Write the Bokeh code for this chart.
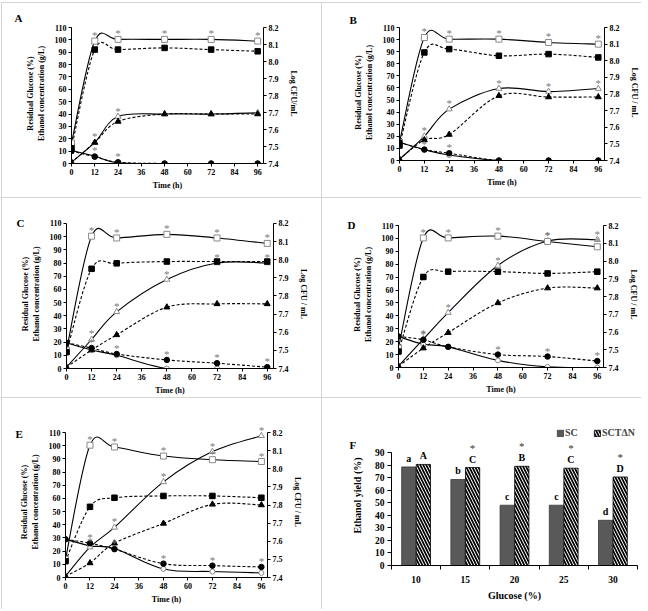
from bokeh.plotting import figure
from bokeh.layouts import column, row
from bokeh.models import (Range1d, LinearAxis, FixedTicker, Legend, LegendItem,
                          NumeralTickFormatter)
from bokeh.core.properties import value
from bokeh.embed import file_html
from bokeh.resources import INLINE

FONT = "Liberation Serif"

# ---------------- data ----------------
time_h = [0, 12, 24, 48, 72, 96]
x_ticks = [0, 12, 24, 36, 48, 60, 72, 84, 96]
left_ticks = [0, 10, 20, 30, 40, 50, 60, 70, 80, 90, 100, 110]
right_ticks = [7.4, 7.5, 7.6, 7.7, 7.8, 7.9, 8.0, 8.1, 8.2]

# Panel A (10 % glucose)
A_cfu_sctn = [7.52, 8.12, 8.13, 8.13, 8.13, 8.12]
A_cfu_sc = [7.49, 8.07, 8.07, 8.08, 8.07, 8.06]
A_eth_sctn = [1, 17, 38, 40, 40, 41]
A_eth_sc = [1, 17, 34, 40, 40, 40]
A_glu_sctn = [10.5, 6, 0.5, 0, 0, 0]
A_glu_sc = [10, 5.5, 1, 0, 0, 0]
A_star_cfu = [12, 24, 48, 72, 96]
A_star_eth = [12, 24]
A_star_glu = [12, 24]

# Panel B (15 % glucose)
B_cfu_sctn = [7.51, 8.14, 8.13, 8.13, 8.11, 8.10]
B_cfu_sc = [7.49, 8.05, 8.07, 8.03, 8.04, 8.02]
B_eth_sctn = [1, 20, 42.5, 59.5, 57, 59.5]
B_eth_sc = [1, 17, 21.5, 53.5, 52.5, 52.5]
B_glu_sctn = [15, 9, 4.5, 0, 0, 0]
B_glu_sc = [15, 9, 6, 0, 0, 0]
B_star_cfu = [12, 24, 48, 72, 96]
B_star_eth = [12, 24, 48, 72, 96]
B_star_glu = [12, 24]

# Panel C (20 % glucose)
C_cfu_sctn = [7.50, 8.13, 8.12, 8.14, 8.12, 8.09]
C_cfu_sc = [7.49, 7.95, 7.98, 7.99, 7.99, 7.99]
C_eth_sctn = [1, 22, 43, 67.5, 80, 80]
C_eth_sc = [1, 14, 25.5, 46.5, 49, 49]
C_glu_sctn = [19.5, 14, 10, 0, 0, 0]
C_glu_sc = [19.5, 15.5, 11, 6.5, 4, 1]
C_star_cfu = [12, 24, 48, 72, 96]
C_star_eth = [12, 24, 48, 72, 96]
C_star_glu = [12, 24, 48, 72, 96]

# Panel D (25 % glucose)
D_cfu_sctn = [7.51, 8.13, 8.13, 8.14, 8.11, 8.08]
D_cfu_sc = [7.49, 7.91, 7.94, 7.94, 7.93, 7.94]
D_eth_sctn = [1, 22, 42.5, 79, 98, 99]
D_eth_sc = [1, 15, 27, 50, 61.5, 61.5]
D_glu_sctn = [24, 18, 16, 5.5, 0.5, 0]
D_glu_sc = [24, 21.5, 16, 10, 8.5, 5]
D_star_cfu = [12, 24, 48, 72, 96]
D_star_eth = [12, 24, 48, 72, 96]
D_star_glu = [12, 48, 72, 96]

# Panel E (30 % glucose)
E_cfu_sctn = [7.50, 8.13, 8.12, 8.07, 8.05, 8.04]
E_cfu_sc = [7.49, 7.79, 7.84, 7.85, 7.85, 7.84]
E_eth_sctn = [1, 23, 38, 72.5, 95.5, 107.5]
E_eth_sc = [1, 11, 26, 41, 55.5, 55]
E_glu_sctn = [29, 24, 22, 6.5, 4.5, 3.5]
E_glu_sc = [29, 26, 21.5, 10.5, 9, 8]
E_star_cfu = [12, 24, 48, 72, 96]
E_star_eth = [12, 24, 48, 72, 96]
E_star_glu = [12, 24, 48, 72, 96]

# Panel F (ethanol yield)
glucose_cats = ["10", "15", "20", "25", "30"]
yield_sc = [78.5, 68.5, 48, 48, 36]
yield_sctn = [80.5, 78, 79, 77.5, 70.5]
letters_sc = ["a", "b", "c", "c", "d"]
letters_sctn = ["A", "C", "B", "C", "D"]
star_sctn = [False, True, True, True, True]
yield_ticks = [0, 10, 20, 30, 40, 50, 60, 70, 80, 90]

# ---------------- helpers ----------------
OPEN_COL = "#8a8a8a"
STAR_COL = "#7a7a7a"
BORDER = {"outline": "1px solid #c8c8c8", "outline-offset": "-1px"}


def smooth_segments(xs, ys):
    n = len(xs)
    d = dict(x0=[], y0=[], x1=[], y1=[], cx0=[], cy0=[], cx1=[], cy1=[])
    for i in range(n - 1):
        a = i - 1 if i > 0 else i
        b = i + 2 if i + 2 < n else i + 1
        d["x0"].append(xs[i]); d["y0"].append(ys[i])
        d["x1"].append(xs[i + 1]); d["y1"].append(ys[i + 1])
        d["cx0"].append(xs[i] + (xs[i + 1] - xs[a]) / 6.0)
        d["cy0"].append(ys[i] + (ys[i + 1] - ys[a]) / 6.0)
        d["cx1"].append(xs[i + 1] - (xs[b] - xs[i]) / 6.0)
        d["cy1"].append(ys[i + 1] - (ys[b] - ys[i]) / 6.0)
    return d


def style_axis(ax, tick_fs="8px", label_fs="8px"):
    ax.axis_line_color = "black"
    ax.axis_line_width = 1
    ax.major_tick_line_color = "black"
    ax.major_tick_in = 0
    ax.major_tick_out = 3
    ax.minor_tick_line_color = None
    ax.major_label_text_font = FONT
    ax.major_label_text_font_style = "bold"
    ax.major_label_text_font_size = tick_fs
    ax.major_label_text_color = "black"
    ax.major_label_standoff = 2
    ax.axis_label_text_font = FONT
    ax.axis_label_text_font_style = "bold"
    ax.axis_label_text_font_size = label_fs
    ax.axis_label_text_color = "black"


def style_letter(p, letter, offset, frame_top, center_y):
    p.title.text = letter
    p.title.align = "left"
    p.title.offset = offset
    p.title.standoff = 2.0 * (frame_top - center_y - 6.5)
    p.title.text_font = FONT
    p.title.text_font_style = "bold"
    p.title.text_font_size = "11px"
    p.title.text_color = "black"


def star_points(times, s1, s2):
    xs, ys = [], []
    for t in times:
        k = time_h.index(t)
        xs.append(t)
        ys.append(max(s1[k], s2[k]))
    return xs, ys


def new_fig(W, H, xr, yr, L, R, top, bottom):
    p = figure(width=W, height=H, x_range=xr, y_range=yr,
               output_backend="svg", toolbar_location=None,
               min_border_left=L, min_border_right=R,
               min_border_top=top, min_border_bottom=bottom)
    p.frame_align = False
    p.outline_line_color = None
    p.grid.visible = False
    p.styles = BORDER
    return p


def timecourse(letter, W, H, L, R, T, Bp, ext, lx, ly,
               cfu_s, cfu_c, eth_s, eth_c, glu_s, glu_c,
               st_cfu, st_eth, st_glu, right_label):
    span = float(Bp - T)
    ymax = 110.0 * (span + ext) / span
    p = new_fig(W, H, Range1d(0, 99), Range1d(0, ymax), L, R, T - ext, H - Bp)
    p.extra_y_ranges = {"cfu": Range1d(7.4, 7.4 + 0.8 * ymax / 110.0)}
    style_letter(p, letter, lx - L, T - ext, ly)

    p.xaxis.ticker = FixedTicker(ticks=x_ticks)
    p.xaxis.axis_label = "Time (h)"
    p.xaxis.axis_label_standoff = 3
    p.yaxis.ticker = FixedTicker(ticks=left_ticks)
    p.yaxis.bounds = (0, 110)
    p.yaxis.axis_label = "Residual Glucose (%)\nEthanol concentration (g/L)"
    p.yaxis.axis_label_standoff = 6
    for ax in p.xaxis + p.yaxis:
        style_axis(ax)

    rax = LinearAxis(y_range_name="cfu", ticker=FixedTicker(ticks=right_ticks),
                     bounds=(7.4, 8.2), formatter=NumeralTickFormatter(format="0.0"),
                     axis_label=right_label)
    style_axis(rax)
    rax.axis_label_standoff = 7
    p.add_layout(rax, "right")

    # lines (smoothed) : solid = SCT-dN, dashed = SC
    for ys, dash, rng in [(glu_s, "solid", "default"), (glu_c, "3 2", "default"),
                          (eth_s, "solid", "default"), (eth_c, "3 2", "default"),
                          (cfu_s, "solid", "cfu"), (cfu_c, "3 2", "cfu")]:
        seg = smooth_segments(time_h, ys)
        p.bezier(x0=seg["x0"], y0=seg["y0"], x1=seg["x1"], y1=seg["y1"],
                 cx0=seg["cx0"], cy0=seg["cy0"], cx1=seg["cx1"], cy1=seg["cy1"],
                 line_color="black", line_width=1.1, line_dash=dash, y_range_name=rng)

    # markers
    p.scatter(time_h, glu_s, marker="circle", size=5, fill_color="white", line_color=OPEN_COL)
    p.scatter(time_h, eth_s, marker="triangle", size=6, fill_color="white", line_color=OPEN_COL)
    p.scatter(time_h, cfu_s, marker="square", size=6, fill_color="white", line_color=OPEN_COL,
              y_range_name="cfu")
    p.scatter(time_h, glu_c, marker="circle", size=5.5, fill_color="black", line_color="black")
    p.scatter(time_h, eth_c, marker="triangle", size=6, fill_color="black", line_color="black")
    p.scatter(time_h, cfu_c, marker="square", size=5.5, fill_color="black", line_color="black",
              y_range_name="cfu")

    # significance stars
    for times, s1, s2, rng in [(st_glu, glu_s, glu_c, "default"), (st_eth, eth_s, eth_c, "default"),
                               (st_cfu, cfu_s, cfu_c, "cfu")]:
        xs, ys = star_points(times, s1, s2)
        p.text(x=xs, y=ys, text=["*"] * len(xs), text_font=value(FONT), text_font_size="11px",
               text_color=STAR_COL, text_align="center", text_baseline="middle",
               y_offset=-6, y_range_name=rng)
    return p


def yield_panel(W, H, L, R, T, Bp, ext, lx, ly):
    span = float(Bp - T)
    ymax = 90.0 * (span + ext) / span
    n = len(glucose_cats)
    p = new_fig(W, H, Range1d(0.5, n + 0.5), Range1d(0, ymax), L, R, T - ext, H - Bp)
    style_letter(p, "F", lx - L, T - ext, ly)

    centers = [i + 1 for i in range(n)]
    x_sc = [c - 0.148 for c in centers]
    x_st = [c + 0.148 for c in centers]
    r1 = p.vbar(x=x_sc, top=yield_sc, width=0.29, fill_color="#595959", line_color="#3a3a3a",
                line_width=0.8)
    r2 = p.vbar(x=x_st, top=yield_sctn, width=0.29, fill_color="white", line_color="black",
                line_width=0.8, hatch_pattern="\\", hatch_color="black", hatch_weight=1.7,
                hatch_scale=6)

    p.text(x=x_sc, y=yield_sc, text=letters_sc, text_font=value(FONT), text_font_style="bold",
           text_font_size="10px", text_align="center", text_baseline="bottom", y_offset=-3)
    p.text(x=x_st, y=yield_sctn, text=letters_sctn, text_font=value(FONT), text_font_style="bold",
           text_font_size="10px", text_align="center", text_baseline="bottom", y_offset=-3)
    sx_l = [x for x, s in zip(x_st, star_sctn) if s]
    sy_l = [y for y, s in zip(yield_sctn, star_sctn) if s]
    p.text(x=sx_l, y=sy_l, text=["*"] * len(sx_l), text_font=value(FONT),
           text_font_size="11px", text_color="#333333", text_align="center",
           text_baseline="middle", y_offset=-20)

    p.xaxis.ticker = FixedTicker(ticks=centers, minor_ticks=[c - 0.5 for c in centers] + [n + 0.5])
    p.xaxis.major_label_overrides = {c: lab for c, lab in zip(centers, glucose_cats)}
    p.xaxis.axis_label = "Glucose (%)"
    p.yaxis.ticker = FixedTicker(ticks=yield_ticks)
    p.yaxis.bounds = (0, 90)
    p.yaxis.axis_label = "Ethanol yield (%)"
    for ax in p.xaxis + p.yaxis:
        style_axis(ax, tick_fs="9.5px", label_fs="10px")
    p.xaxis.major_tick_line_color = None
    p.xaxis.minor_tick_line_color = "black"
    p.xaxis.minor_tick_in = 0
    p.xaxis.minor_tick_out = 4
    p.xaxis.major_label_standoff = 6
    p.xaxis.axis_label_standoff = 4
    p.yaxis.major_tick_out = 4
    p.yaxis.major_label_standoff = 3
    p.yaxis.axis_label_standoff = 9

    leg = Legend(items=[LegendItem(label="SC", renderers=[r1]),
                        LegendItem(label="SCT\u0394N", renderers=[r2])],
                 location="top_right", orientation="horizontal")
    leg.label_text_font = FONT
    leg.label_text_font_style = "bold"
    leg.label_text_font_size = "10px"
    leg.glyph_width = 8
    leg.glyph_height = 8
    leg.label_standoff = 1
    leg.spacing = 8
    leg.padding = 1
    leg.margin = 2
    leg.label_height = 10
    leg.border_line_color = None
    leg.background_fill_alpha = 0
    p.add_layout(leg)
    return p


W = 320
H1, H2, H3 = 195, 200, 212

pA = timecourse("A", W, H1, 70, 58, 25, 161, 4, 13, 15,
                A_cfu_sctn, A_cfu_sc, A_eth_sctn, A_eth_sc, A_glu_sctn, A_glu_sc,
                A_star_cfu, A_star_eth, A_star_glu, "Log CFU/mL")
pB = timecourse("B", W, H1, 78, 37, 25, 158, 3, 28, 17,
                B_cfu_sctn, B_cfu_sc, B_eth_sctn, B_eth_sc, B_glu_sctn, B_glu_sc,
                B_star_cfu, B_star_eth, B_star_glu, "Log CFU / mL")
pC = timecourse("C", W, H2, 65, 48, 26, 172, 4, 15, 25,
                C_cfu_sctn, C_cfu_sc, C_eth_sctn, C_eth_sc, C_glu_sctn, C_glu_sc,
                C_star_cfu, C_star_eth, C_star_glu, "Log CFU / mL")
pD = timecourse("D", W, H2, 77, 38, 28, 170, 4, 26, 27,
                D_cfu_sctn, D_cfu_sc, D_eth_sctn, D_eth_sc, D_glu_sctn, D_glu_sc,
                D_star_cfu, D_star_eth, D_star_glu, "Log CFU / mL")
pE = timecourse("E", W, H3, 64, 54, 35, 180, 6, 14, 36,
                E_cfu_sctn, E_cfu_sc, E_eth_sctn, E_eth_sc, E_glu_sctn, E_glu_sc,
                E_star_cfu, E_star_eth, E_star_glu, "Log CFU / mL")
pF = yield_panel(W, H3, 70, 4, 55, 168, 27, 28, 47)

page = column(row(pA, pB), row(pC, pD), row(pE, pF), margin=(2, 0, 0, 1))

open("out.html", "w").write(file_html(page, INLINE))
